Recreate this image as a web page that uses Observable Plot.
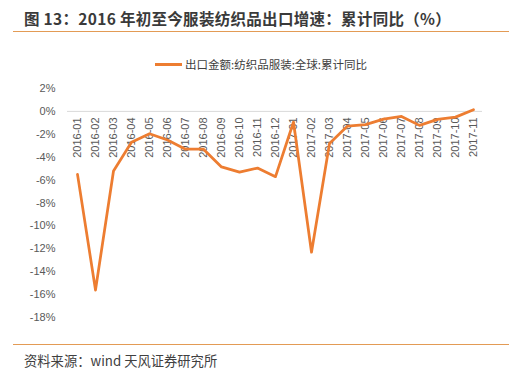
<!DOCTYPE html>
<html><head><meta charset="utf-8">
<script src="https://cdn.jsdelivr.net/npm/d3@7"></script>
<script src="https://cdn.jsdelivr.net/npm/@observablehq/plot@0.6"></script>
<style>
body{margin:0;background:#fff;font-family:"Noto Sans CJK SC","Liberation Sans",sans-serif;}
#wrap{position:relative;width:522px;height:378px;overflow:hidden;}
.title{position:absolute;left:24px;top:7px;font-size:15.5px;letter-spacing:0.3px;font-weight:bold;color:#3a3a3a;white-space:nowrap;line-height:22px;}
.rule{position:absolute;left:13px;width:496px;height:1px;background:#E39B55;}
.legend{position:absolute;top:56px;left:0;width:522px;text-align:center;font-size:11.5px;color:#404040;line-height:16px;white-space:nowrap;}
.legend .sw{display:inline-block;width:27px;height:3px;background:#ED7D31;vertical-align:middle;margin-right:3px;position:relative;top:-1px;}
.source{position:absolute;left:24px;top:351px;font-size:13.3px;color:#404040;white-space:nowrap;line-height:20px;}
#chart{position:absolute;left:0;top:80px;}
</style></head>
<body><div id="wrap">
<div class="title">图 13：2016 年初至今服装纺织品出口增速：累计同比（%）</div>
<div class="rule" style="top:31px"></div>
<div class="legend"><span class="sw"></span>出口金额:纺织品服装:全球:累计同比</div>
<div id="chart"></div>
<div class="rule" style="top:344px"></div>
<div class="source">资料来源：wind 天风证券研究所</div>
</div>
<script>
const months = ["2016-01","2016-02","2016-03","2016-04","2016-05","2016-06","2016-07","2016-08","2016-09","2016-10","2016-11","2016-12","2017-01","2017-02","2017-03","2017-04","2017-05","2017-06","2017-07","2017-08","2017-09","2017-10","2017-11"];
const growth = [-5.5,-15.6,-5.2,-2.7,-1.95,-2.5,-3.3,-3.3,-4.85,-5.3,-4.95,-5.7,-0.93,-12.3,-2.8,-1.28,-1.15,-0.67,-0.44,-1.22,-0.7,-0.5,0.15];
const yTicks = [2,0,-2,-4,-6,-8,-10,-12,-14,-16,-18];
const seriesName = "出口金额:纺织品服装:全球:累计同比";

const data = months.map((m,i)=>({month:m, value:growth[i]}));

const chart = Plot.plot({
  width: 522,
  height: 250,
  marginTop: 8,
  marginBottom: 13,
  marginLeft: 67,
  marginRight: 40,
  style: {fontFamily: "'Liberation Sans', Arial, sans-serif", fontSize: "11px", color: "#595959", background: "transparent"},
  x: {type: "point", domain: months, padding: 0.5, axis: null},
  y: {domain: [-18, 2], ticks: yTicks, tickSize: 0, tickPadding: 12, tickFormat: d => `${d}%`, label: null},
  marks: [
    Plot.ruleY([0], {stroke: "#d9d9d9", strokeWidth: 1}),
    Plot.text(months, {x: d => d, y: d => 0, text: d => d, rotate: -90, textAnchor: "end", dy: 6, fill: "#595959", fontSize: 11}),
    Plot.line(data, {x: "month", y: "value", stroke: "#ED7D31", strokeWidth: 2.75, strokeLinejoin: "round", strokeLinecap: "round"})
  ]
});
document.getElementById("chart").appendChild(chart);
</script>
</body></html>
